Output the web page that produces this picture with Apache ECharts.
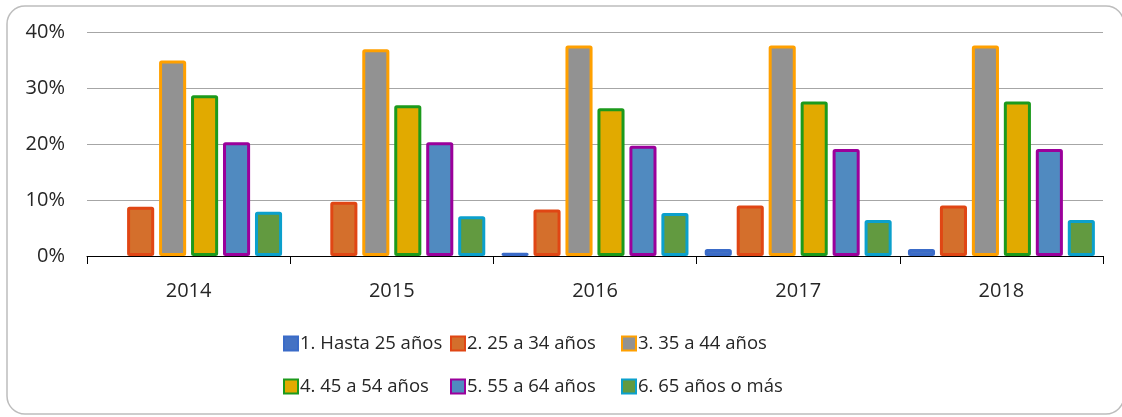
<!DOCTYPE html>
<html>
<head>
<meta charset="utf-8">
<script src="https://cdn.jsdelivr.net/npm/echarts@6/dist/echarts.min.js"></script>
<style>
  html, body { margin: 0; padding: 0; background: #fff; }
  #chart { width: 1122px; height: 417px; }
</style>
</head>
<body>
<div id="chart"></div>
<script>
// datos (porcentaje)
var years = ["2014", "2015", "2016", "2017", "2018"];
var seriesNames = [
  "1. Hasta 25 años", "2. 25 a 34 años", "3. 35 a 44 años",
  "4. 45 a 54 años", "5. 55 a 64 años", "6. 65 años o más"
];
var hasta25 = [0, 0, 0.6, 1.25, 1.25];
var de25a34 = [8.8, 9.7, 8.3, 9.0, 9.0];
var de35a44 = [34.9, 36.9, 37.6, 37.6, 37.6];
var de45a54 = [28.7, 26.9, 26.4, 27.6, 27.6];
var de55a64 = [20.3, 20.3, 19.7, 19.1, 19.1];
var mas65 = [7.9, 7.1, 7.7, 6.45, 6.45];
var yTicks = [0, 10, 20, 30, 40];

var fills = ["#4472c4", "#d46f2c", "#929292", "#e1aa00", "#508ac0", "#629a40"];
var borders = ["#3a6bc8", "#e04614", "#ffa000", "#1c9a1c", "#9b009b", "#0ba0cc"];
var values = [hasta25, de25a34, de35a44, de45a54, de55a64, mas65];

var font = "Open Sans";
var textColor = "#262626";
var chart = echarts.init(document.getElementById("chart"));

var series = values.map(function (v, i) {
  return {
    name: seriesNames[i],
    type: "bar",
    // un 0 no se dibuja (como en el original)
    data: v.map(function (x) { return x === 0 ? null : x; }),
    barGap: "18%",
    barCategoryGap: "8%",
    itemStyle: {
      color: fills[i],
      borderColor: borders[i],
      borderWidth: 3,
      borderRadius: 1
    }
  };
});

// una leyenda por item para alinear las columnas
var legendCols = [283, 450, 621];
var legendRows = [334, 377];
var legends = seriesNames.map(function (name, i) {
  return {
    left: legendCols[i % 3],
    top: legendRows[Math.floor(i / 3)],
    padding: 0,
    data: [name],
    itemWidth: 14,
    itemHeight: 14,
    icon: "rect",
    itemStyle: { borderWidth: 2 },
    textStyle: { fontFamily: font, fontSize: 18.5, color: textColor, padding: [0, 0, 0, -3] }
  };
});

chart.setOption({
  backgroundColor: "#fff",
  animation: false,
  graphic: [{
    type: "rect",
    shape: { x: 7, y: 6, width: 1117, height: 408, r: 18 },
    style: { fill: "none", stroke: "#bdbdbd", lineWidth: 1.5 },
    z: -1
  }],
  grid: { left: 87, right: 19, top: 32, bottom: 161 },
  legend: legends,
  xAxis: {
    type: "category",
    data: years,
    axisLine: { lineStyle: { color: "#000", width: 1 } },
    axisTick: { show: true, length: 8, lineStyle: { color: "#000" } },
    axisLabel: { fontFamily: font, fontSize: 20, color: textColor, margin: 25 }
  },
  yAxis: {
    type: "value",
    min: yTicks[0],
    max: yTicks[yTicks.length - 1],
    interval: 10,
    axisLine: { show: false },
    axisTick: { show: false },
    splitLine: { lineStyle: { color: "#a6a6a6", width: 1 } },
    axisLabel: {
      fontFamily: font, fontSize: 20, color: textColor, margin: 22,
      formatter: function (v) { return v + "%"; }
    }
  },
  series: series
});
</script>
</body>
</html>
